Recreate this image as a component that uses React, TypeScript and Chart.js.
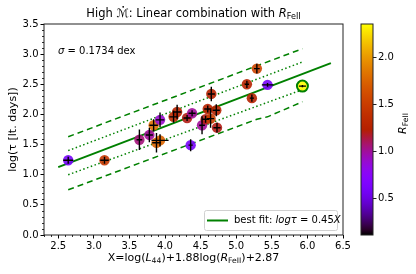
import React, { useEffect, useRef } from "react";
import { Chart, registerables } from "chart.js";
Chart.register(...registerables);

// ---- data ----
const xVals = [2.64, 3.15, 3.64, 3.78, 3.84, 3.93, 3.88, 3.93, 4.12, 4.17, 4.31, 4.38, 4.36, 4.52, 4.57, 4.6, 4.64, 4.72, 4.73, 4.65, 5.15, 5.29, 5.22, 5.44, 5.93];
const yVals = [1.24, 1.24, 1.58, 1.66, 1.82, 1.91, 1.53, 1.57, 1.96, 2.04, 1.94, 2.02, 1.49, 1.82, 1.92, 2.09, 1.93, 2.07, 1.78, 2.34, 2.5, 2.76, 2.27, 2.49, 2.47];
const rFeII = [0.6, 1.45, 1.05, 1.0, 1.8, 0.9, 1.75, 1.75, 1.35, 1.25, 1.2, 1.0, 0.6, 1.0, 1.2, 1.25, 1.5, 1.25, 1.2, 1.25, 1.25, 1.55, 1.25, 0.6, 2.35];
const yErr = [0.06, 0.06, 0.17, 0.12, 0.1, 0.12, 0.16, 0.1, 0.1, 0.12, 0.05, 0.05, 0.1, 0.15, 0.06, 0.06, 0.15, 0.1, 0.08, 0.12, 0.06, 0.08, 0.06, 0.03, 0.02];
const xErr = [0.07, 0.06, 0.04, 0.05, 0.06, 0.06, 0.06, 0.12, 0.06, 0.06, 0.05, 0.05, 0.03, 0.04, 0.05, 0.05, 0.05, 0.05, 0.05, 0.05, 0.03, 0.04, 0.03, 0.08, 0.05];
const highlighted = [24];

const fitX = [2.5, 6.33];
const fitY = [1.125, 2.85];
const upDashX = [2.64, 5.93];
const upDashY = [1.63, 3.09];
const upDotX = [2.64, 5.93];
const upDotY = [1.4, 2.87];
const loDotX = [2.64, 5.93];
const loDotY = [1.0, 2.41];
const loDashX = [2.64, 5.29, 5.44, 5.93];
const loDashY = [0.75, 1.92, 1.96, 2.21];

const xTicks = [2.5, 3.0, 3.5, 4.0, 4.5, 5.0, 5.5, 6.0, 6.5];
const yTicks = [0.0, 0.5, 1.0, 1.5, 2.0, 2.5, 3.0, 3.5];
const cbTicks = [0.5, 1.0, 1.5, 2.0];
const xRange = [2.3, 6.5];
const yRange = [0, 3.5];
const cbRange = [0.11, 2.35];

const FONT = '"DejaVu Sans", sans-serif';
const GREEN = "#008000";

function gnuplot(t: number): [number, number, number] {
  const c = Math.max(0, Math.min(1, t));
  const r = Math.sqrt(c);
  const g = c * c * c;
  const b = Math.max(0, Math.sin(2 * Math.PI * c));
  return [Math.round(r * 255), Math.round(g * 255), Math.round(b * 255)];
}
function cmap(v: number, a = 1) {
  const [r, g, b] = gnuplot((v - cbRange[0]) / (cbRange[1] - cbRange[0]));
  return `rgba(${r},${g},${b},${a})`;
}

type Part = { t: string; it?: boolean; sub?: boolean; dot?: boolean };
function drawRich(ctx: CanvasRenderingContext2D, parts: Part[], x: number, y: number, size: number, align: "left" | "center", rot = 0) {
  ctx.save();
  ctx.translate(x, y);
  if (rot) ctx.rotate(rot);
  ctx.textBaseline = "middle";
  ctx.textAlign = "left";
  ctx.fillStyle = "#000";
  const fontOf = (p: Part) => `${p.it ? "italic " : ""}${p.sub ? size * 0.7 : size}px ${FONT}`;
  let total = 0;
  const widths = parts.map((p) => {
    ctx.font = fontOf(p);
    const w = ctx.measureText(p.t).width;
    total += w;
    return w;
  });
  let cx = align === "center" ? -total / 2 : 0;
  parts.forEach((p, i) => {
    ctx.font = fontOf(p);
    ctx.fillText(p.t, cx, p.sub ? size * 0.28 : 0);
    if (p.dot) {
      ctx.beginPath();
      ctx.arc(cx + widths[i] * 0.55, -size * 0.62, 0.9, 0, Math.PI * 2);
      ctx.fill();
    }
    cx += widths[i];
  });
  ctx.restore();
}

const decor = {
  id: "decor",
  afterDatasetsDraw(chart: any) {
    const ctx = chart.ctx as CanvasRenderingContext2D;
    const xs = chart.scales.x;
    const ys = chart.scales.y;
    ctx.save();
    ctx.strokeStyle = "#000";
    ctx.lineWidth = 1.4;
    for (let i = 0; i < xVals.length; i++) {
      const px = xs.getPixelForValue(xVals[i]);
      const py = ys.getPixelForValue(yVals[i]);
      ctx.beginPath();
      ctx.moveTo(px, ys.getPixelForValue(yVals[i] - yErr[i]));
      ctx.lineTo(px, ys.getPixelForValue(yVals[i] + yErr[i]));
      ctx.moveTo(xs.getPixelForValue(xVals[i] - xErr[i]), py);
      ctx.lineTo(xs.getPixelForValue(xVals[i] + xErr[i]), py);
      ctx.stroke();
    }
    ctx.restore();
  },
  afterDraw(chart: any) {
    const ctx = chart.ctx as CanvasRenderingContext2D;
    const a = chart.chartArea;
    const xs = chart.scales.x;
    const ys = chart.scales.y;
    const cb = chart.scales.cb;
    ctx.save();
    // frame
    ctx.strokeStyle = "#222";
    ctx.lineWidth = 1;
    ctx.strokeRect(a.left, a.top, a.right - a.left, a.bottom - a.top);
    // minor ticks
    ctx.strokeStyle = "#000";
    ctx.lineWidth = 0.8;
    ctx.beginPath();
    for (let v = Math.ceil(xRange[0] * 10); v <= xRange[1] * 10; v++) {
      if (v % 5 === 0) continue;
      const px = Math.round(xs.getPixelForValue(v / 10)) + 0.5;
      ctx.moveTo(px, a.bottom);
      ctx.lineTo(px, a.bottom + 2);
    }
    for (let v = Math.ceil(yRange[0] * 10); v <= yRange[1] * 10; v++) {
      if (v % 5 === 0) continue;
      const py = Math.round(ys.getPixelForValue(v / 10)) + 0.5;
      ctx.moveTo(a.left, py);
      ctx.lineTo(a.left - 2, py);
    }
    ctx.stroke();

    // colorbar
    const cbL = a.right + 18;
    const cbW = 12;
    const top = cb.getPixelForValue(cbRange[1]);
    const bot = cb.getPixelForValue(cbRange[0]);
    const grad = ctx.createLinearGradient(0, bot, 0, top);
    for (let i = 0; i <= 40; i++) {
      const t = i / 40;
      grad.addColorStop(t, cmap(cbRange[0] + t * (cbRange[1] - cbRange[0])));
    }
    ctx.fillStyle = grad;
    ctx.fillRect(cbL, top, cbW, bot - top);
    ctx.strokeStyle = "#222";
    ctx.lineWidth = 1;
    ctx.strokeRect(cbL, top, cbW, bot - top);
    ctx.fillStyle = "#000";
    ctx.font = `10px ${FONT}`;
    ctx.textAlign = "left";
    ctx.textBaseline = "middle";
    cbTicks.forEach((v) => {
      const py = Math.round(cb.getPixelForValue(v)) + 0.5;
      ctx.beginPath();
      ctx.moveTo(cbL + cbW, py);
      ctx.lineTo(cbL + cbW + 3.5, py);
      ctx.stroke();
      ctx.fillText(v.toFixed(1), cbL + cbW + 5, py);
    });
    drawRich(ctx, [{ t: "R", it: true }, { t: "FeII", sub: true }], cbL + 42, (top + bot) / 2 - 6, 11, "center", -Math.PI / 2);

    // title
    const cx = (a.left + a.right) / 2;
    drawRich(ctx, [{ t: "High " }, { t: "ℳ", dot: true }, { t: ": Linear combination with " }, { t: "R", it: true }, { t: "FeII", sub: true }], cx, 14, 11.5, "center");
    // x label
    drawRich(
      ctx,
      [{ t: "X=log(" }, { t: "L", it: true }, { t: "44", sub: true }, { t: ")+1.88log(" }, { t: "R", it: true }, { t: "FeII", sub: true }, { t: ")+2.87" }],
      cx,
      258,
      11,
      "center"
    );
    // y label
    drawRich(ctx, [{ t: "log(τ [lt. days])" }], 13, (a.top + a.bottom) / 2, 11, "center", -Math.PI / 2);
    // sigma
    drawRich(ctx, [{ t: "σ", it: true }, { t: " = 0.1734 dex" }], a.left + 14, 51, 10, "left");

    // legend
    const lx = 204, ly = 210, lw = 133, lh = 20;
    ctx.fillStyle = "rgba(255,255,255,0.8)";
    ctx.strokeStyle = "#d0d0d0";
    ctx.lineWidth = 1;
    ctx.beginPath();
    ctx.roundRect(lx + 0.5, ly + 0.5, lw, lh, 2);
    ctx.fill();
    ctx.stroke();
    ctx.strokeStyle = GREEN;
    ctx.lineWidth = 2;
    ctx.beginPath();
    ctx.moveTo(lx + 3, ly + 10.5);
    ctx.lineTo(lx + 24, ly + 10.5);
    ctx.stroke();
    drawRich(ctx, [{ t: "best fit: " }, { t: "log", it: true }, { t: "τ", it: true }, { t: " = 0.45" }, { t: "X", it: true }], lx + 30, ly + 10.5, 10, "left");
    ctx.restore();
  },
};

function toXY(xa: number[], ya: number[]) {
  return xa.map((x, i) => ({ x, y: ya[i] }));
}

export default function App() {
  const ref = useRef<HTMLCanvasElement>(null);
  useEffect(() => {
    document.body.style.margin = "0";
    const lineDs = (xa: number[], ya: number[], dash: number[], width: number) => ({
      type: "line" as const,
      data: toXY(xa, ya),
      showLine: true,
      borderColor: GREEN,
      borderWidth: width,
      borderDash: dash,
      pointRadius: 0,
      fill: false,
      tension: 0,
    });
    const chart = new Chart(ref.current!, {
      type: "scatter",
      data: {
        datasets: [
          {
            data: toXY(xVals, yVals),
            backgroundColor: rFeII.map((r) => cmap(r, 0.9)),
            borderColor: xVals.map((_, i) => (highlighted.includes(i) ? GREEN : "rgba(0,0,0,0)")),
            borderWidth: xVals.map((_, i) => (highlighted.includes(i) ? 2 : 0)),
            pointRadius: xVals.map((_, i) => (highlighted.includes(i) ? 5.5 : 5.2)),
          } as any,
          lineDs(fitX, fitY, [], 2),
          lineDs(upDashX, upDashY, [6, 4], 1.5),
          lineDs(loDashX, loDashY, [6, 4], 1.5),
          lineDs(upDotX, upDotY, [1.5, 2.5], 1.5),
          lineDs(loDotX, loDotY, [1.5, 2.5], 1.5),
        ],
      },
      options: {
        animation: false,
        responsive: false,
        events: [],
        layout: { padding: { top: 24, right: 73, left: 0, bottom: 0 } },
        plugins: { legend: { display: false }, tooltip: { enabled: false }, title: { display: false } },
        scales: {
          x: {
            type: "linear",
            min: xRange[0],
            max: xRange[1],
            afterBuildTicks: (s: any) => {
              s.ticks = xTicks.map((v) => ({ value: v }));
            },
            afterFit: (s: any) => {
              s.height = 39;
            },
            ticks: { color: "#000", font: { family: FONT, size: 10 }, padding: 2, maxRotation: 0, autoSkip: false, callback: (v: any) => Number(v).toFixed(1) },
            grid: { display: true, drawOnChartArea: false, drawTicks: true, tickLength: 3.5, color: "#000", lineWidth: 1 },
            border: { display: false },
          },
          y: {
            type: "linear",
            min: yRange[0],
            max: yRange[1],
            afterBuildTicks: (s: any) => {
              s.ticks = yTicks.map((v) => ({ value: v }));
            },
            afterFit: (s: any) => {
              s.width = 44;
            },
            ticks: { color: "#000", font: { family: FONT, size: 10 }, padding: 2, autoSkip: false, callback: (v: any) => Number(v).toFixed(1) },
            grid: { display: true, drawOnChartArea: false, drawTicks: true, tickLength: 3.5, color: "#000", lineWidth: 1 },
            border: { display: false },
          },
          cb: {
            type: "linear",
            position: "right",
            display: false,
            min: cbRange[0],
            max: cbRange[1],
          },
        },
      } as any,
      plugins: [decor],
    });
    return () => chart.destroy();
  }, []);
  return <canvas ref={ref} width={416} height={274} style={{ display: "block" }} />;
}
